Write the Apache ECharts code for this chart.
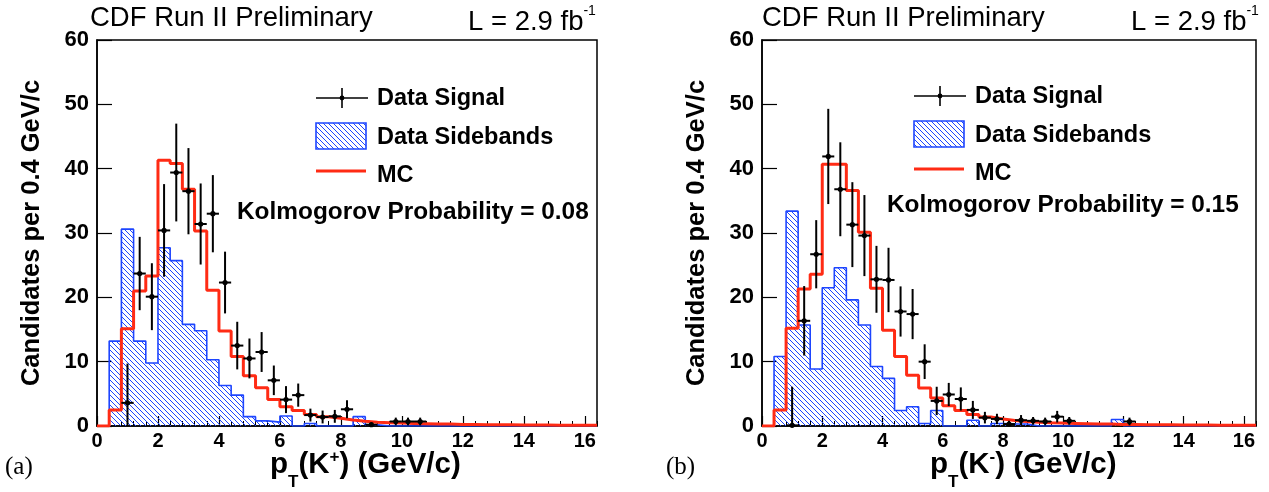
<!DOCTYPE html>
<html>
<head>
<meta charset="utf-8">
<script src="https://cdn.jsdelivr.net/npm/echarts@6/dist/echarts.min.js"></script>
<style>
html, body { margin: 0; padding: 0; background: #fff; }
#chart { width: 1269px; height: 492px; }
</style>
</head>
<body>
<div id="chart"></div>
<script>
// histogram bins: 41 bins of 0.4 GeV/c from 0 to 16.4
var binWidth = 0.4;

// (a) K+
var sbPlus = [0, 13.2, 30.6, 13.2, 9.8, 27.7, 25.7, 15.8, 14.8, 10.3, 6.3, 4.8, 1.45, 0.8, 0.6, 1.55,
  0, 0.4, 0, 0, 0, 1.45, 0.2, 0, 0, 0, 0, 0, 0, 0, 0, 0, 0, 0, 0, 0, 0, 0, 0, 0, 0];
var mcPlus = [0, 2.5, 15.1, 21.0, 23.3, 41.3, 40.8, 36.8, 30.3, 21.1, 14.75, 10.8, 7.8, 5.95, 4.1, 3.0,
  2.4, 1.8, 1.45, 1.2, 0.95, 0.75, 0.6, 0.5, 0.45, 0.4, 0.35, 0.3, 0.3, 0.25, 0.25, 0.2, 0.2, 0.2,
  0.15, 0.15, 0.15, 0.1, 0.1, 0.1, 0.1];
var dataPlusX = [1.0, 1.4, 1.8, 2.2, 2.6, 3.0, 3.4, 3.8, 4.2, 4.6, 5.0, 5.4, 5.8, 6.2, 6.6, 7.0, 7.4, 7.8, 8.2, 9.0, 9.8, 10.2, 10.6];
var dataPlusY = [3.6, 23.7, 20.1, 30.4, 39.4, 36.5, 31.4, 33.0, 22.3, 12.5, 10.5, 11.5, 7.1, 4.1, 4.8, 1.7, 1.4, 1.5, 2.6, 0.2, 0.7, 0.7, 0.7];
var dataPlusErr = [6.1, 5.7, 5.2, 7.2, 7.6, 6.7, 6.3, 6.0, 4.8, 3.7, 3.1, 3.1, 2.3, 2.1, 1.8, 1.0, 1.0, 1.0, 1.4, 0.3, 0.6, 0.6, 0.6];

// (b) K-
var sbMinus = [0, 10.8, 33.4, 15.7, 8.85, 21.5, 24.6, 19.6, 15.7, 9.25, 7.4, 2.4, 3.0, 0.4, 2.4, 0,
  0, 0.9, 0, 0.4, 0.3, 0.3, 0, 0, 0, 0, 0, 0, 0, 1.0, 0, 0, 0, 0, 0, 0, 0, 0, 0, 0, 0];
var mcMinus = [0, 2.5, 15.2, 21.3, 23.6, 40.7, 40.7, 36.6, 30.1, 21.4, 14.9, 10.8, 7.9, 5.9, 4.35, 3.15,
  2.4, 1.8, 1.4, 1.1, 0.85, 0.7, 0.6, 0.5, 0.45, 0.4, 0.35, 0.3, 0.3, 0.25, 0.25, 0.2, 0.2, 0.2,
  0.15, 0.15, 0.15, 0.1, 0.1, 0.1, 0.1];
var dataMinusX = [1.0, 1.4, 1.8, 2.2, 2.6, 3.0, 3.4, 3.8, 4.2, 4.6, 5.0, 5.4, 5.8, 6.2, 6.6, 7.0, 7.4, 7.8, 8.2, 8.6, 9.0, 9.4, 9.8, 10.2, 12.2];
var dataMinusY = [0.1, 16.35, 26.7, 41.9, 36.8, 31.3, 29.6, 22.8, 22.7, 17.8, 17.4, 10.0, 3.9, 4.9, 4.2, 2.5, 1.3, 1.1, 0.3, 0.9, 0.8, 0.7, 1.45, 0.8, 0.7];
var dataMinusErr = [6.0, 5.4, 5.3, 7.4, 7.3, 6.6, 6.3, 5.2, 5.0, 3.9, 3.9, 2.7, 2.2, 1.8, 1.8, 1.4, 0.9, 0.8, 0.5, 0.8, 0.6, 0.6, 0.9, 0.6, 0.6];

var kolmogorov = ['0.08', '0.15'];

var FONT = '"Liberation Sans", Arial, Helvetica, sans-serif';
var SERIF = '"Liberation Serif", "DejaVu Serif", serif';
var BLUE = '#1d45ff';
var RED = '#ff2b14';

// hatch pattern for the sidebands
var hatch = document.createElement('canvas');
hatch.width = 5; hatch.height = 5;
var hc = hatch.getContext('2d');
hc.strokeStyle = BLUE;
hc.lineWidth = 1;
hc.beginPath();
hc.moveTo(-1, -1); hc.lineTo(6, 6);
hc.moveTo(4, -1); hc.lineTo(6, 1);
hc.moveTo(-1, 4); hc.lineTo(1, 6);
hc.stroke();

function stepPoints(vals) {
  var pts = [];
  for (var i = 0; i < vals.length; i++) pts.push([i * binWidth, vals[i]]);
  pts.push([vals.length * binWidth, vals[vals.length - 1]]);
  return pts;
}

function points(xs, ys, es) {
  return xs.map(function (x, i) { return [x, ys[i], es[i]]; });
}

function renderPoint(params, api) {
  var x = api.value(0), y = api.value(1), e = api.value(2);
  var c = api.coord([x, y]);
  var top = api.coord([x, y + e]);
  var bot = api.coord([x, Math.max(0, y - e)]);
  var l = api.coord([x - binWidth / 2, y]);
  var r = api.coord([x + binWidth / 2, y]);
  return {
    type: 'group',
    children: [
      { type: 'line', shape: { x1: c[0], y1: top[1], x2: c[0], y2: bot[1] }, style: { stroke: '#000', lineWidth: 2 } },
      { type: 'line', shape: { x1: l[0], y1: c[1], x2: r[0], y2: c[1] }, style: { stroke: '#000', lineWidth: 2 } },
      { type: 'circle', shape: { cx: c[0], cy: c[1], r: 2.6 }, style: { fill: '#000' } }
    ]
  };
}

function xAxes(gi) {
  return [{
    gridIndex: gi, type: 'value', min: 0, max: 16.4, interval: 2, position: 'bottom',
    axisLine: { show: true, onZero: false, lineStyle: { color: '#000', width: 1.5 } },
    axisTick: { inside: true, length: 10, lineStyle: { color: '#000', width: 1.2 } },
    axisLabel: { color: '#000', fontFamily: FONT, fontWeight: 'bold', fontSize: 20, margin: 5, showMaxLabel: false },
    splitLine: { show: false }
  }, {
    gridIndex: gi, type: 'value', min: 0, max: 16.4, interval: 0.4, position: 'bottom', offset: 0,
    axisLine: { show: false },
    axisTick: { inside: true, length: 5, lineStyle: { color: '#000', width: 1 } },
    axisLabel: { show: false },
    splitLine: { show: false }
  }];
}

function yAxis(gi) {
  return {
    gridIndex: gi, type: 'value', min: 0, max: 60, interval: 10,
    name: 'Candidates per 0.4 GeV/c', nameLocation: 'middle', nameGap: 52, nameRotate: 90,
    nameTextStyle: { color: '#000', fontFamily: FONT, fontWeight: 'bold', fontSize: 25.5 },
    axisLine: { show: true, lineStyle: { color: '#000', width: 1.5 } },
    axisTick: { inside: true, length: 15, lineStyle: { color: '#000', width: 1.2 } },
    axisLabel: { color: '#000', fontFamily: FONT, fontWeight: 'bold', fontSize: 22, margin: 8 },
    splitLine: { show: false }
  };
}

function panelSeries(gi, sb, mc, dx, dy, de) {
  var xi = gi * 2;
  return [{
    type: 'line', xAxisIndex: xi, yAxisIndex: gi, step: 'end', showSymbol: false, silent: true,
    data: stepPoints(sb),
    lineStyle: { color: BLUE, width: 1.6 },
    areaStyle: { color: { image: hatch, repeat: 'repeat' }, opacity: 1 },
    z: 2
  }, {
    type: 'line', xAxisIndex: xi, yAxisIndex: gi, step: 'end', showSymbol: false, silent: true,
    data: stepPoints(mc),
    lineStyle: { color: RED, width: 3 },
    z: 3
  }, {
    type: 'custom', xAxisIndex: xi, yAxisIndex: gi, renderItem: renderPoint,
    encode: { x: 0, y: 1 }, data: points(dx, dy, de), silent: true,
    z: 4
  }];
}

function txt(x, y, text, size, family, weight) {
  return {
    type: 'text', left: x, top: y - size * 0.6 + 3,
    style: { text: text, fill: '#000', font: (weight || 'bold') + ' ' + size + 'px ' + (family || FONT) },
    z: 10
  };
}

function legend(lx, tx, yData, yBox, yMc, kx, ky, kval) {
  var lw = 52;
  return [
    { type: 'line', shape: { x1: lx, y1: yData, x2: lx + lw, y2: yData }, style: { stroke: '#000', lineWidth: 1.6 }, z: 10 },
    { type: 'line', shape: { x1: lx + lw / 2, y1: yData - 10, x2: lx + lw / 2, y2: yData + 10 }, style: { stroke: '#000', lineWidth: 1.6 }, z: 10 },
    { type: 'circle', shape: { cx: lx + lw / 2, cy: yData, r: 2.4 }, style: { fill: '#000' }, z: 10 },
    { type: 'rect', shape: { x: lx, y: yBox - 13, width: 50, height: 26 }, style: { fill: { image: hatch, repeat: 'repeat' }, stroke: BLUE, lineWidth: 1.6 }, z: 10 },
    { type: 'line', shape: { x1: lx, y1: yMc, x2: lx + 50, y2: yMc }, style: { stroke: RED, lineWidth: 3 }, z: 10 },
    txt(tx, yData, 'Data Signal', 23.5),
    txt(tx, yBox + 1, 'Data Sidebands', 23.5),
    txt(tx, yMc + 4, 'MC', 23.5),
    txt(kx, ky, 'Kolmogorov Probability = ' + kval, 24.4)
  ];
}

var supRich = {
  n: { fontFamily: FONT, fontSize: 27.5, fontWeight: 'normal', color: '#000', verticalAlign: 'bottom', lineHeight: 32 },
  s: { fontFamily: FONT, fontSize: 14, fontWeight: 'normal', color: '#000', verticalAlign: 'top', lineHeight: 32 }
};
var axRich = {
  n: { fontFamily: FONT, fontSize: 29.5, fontWeight: 'bold', color: '#000', lineHeight: 32 },
  sub: { fontFamily: FONT, fontSize: 17, fontWeight: 'bold', color: '#000', verticalAlign: 'bottom', lineHeight: 32, padding: [0, 0, -10, 0] },
  sup: { fontFamily: FONT, fontSize: 17, fontWeight: 'bold', color: '#000', verticalAlign: 'top', lineHeight: 32 }
};

function header(x1, x2, xt, charge) {
  return [
    { type: 'text', left: x1, top: 4, style: { text: '{n|CDF Run II Preliminary}', rich: supRich }, z: 10 },
    { type: 'text', left: x2, top: 4, style: { text: '{n|L = 2.9 fb}{s|-1}', rich: supRich }, z: 10 },
    { type: 'text', left: xt, top: 449, style: { text: '{n|p}{sub|T}{n|(K}{sup|' + charge + '}{n|) (GeV/c)}', rich: axRich }, z: 10 }
  ];
}

var chart = echarts.init(document.getElementById('chart'));
chart.setOption({
  backgroundColor: '#fff',
  animation: false,
  grid: [
    { left: 97, top: 40, width: 500, height: 386, show: true, borderColor: '#000', borderWidth: 1.5 },
    { left: 762, top: 40, width: 494, height: 386, show: true, borderColor: '#000', borderWidth: 1.5 }
  ],
  xAxis: xAxes(0).concat(xAxes(1)),
  yAxis: [yAxis(0), yAxis(1)],
  series: panelSeries(0, sbPlus, mcPlus, dataPlusX, dataPlusY, dataPlusErr)
    .concat(panelSeries(1, sbMinus, mcMinus, dataMinusX, dataMinusY, dataMinusErr)),
  graphic: [].concat(
    header(90, 468, 270, '+'),
    header(762, 1131, 930, '-'),
    legend(316, 377, 98, 136, 171, 237, 212, kolmogorov[0]),
    legend(914, 975, 96, 134, 169, 887, 205, kolmogorov[1]),
    [txt(5, 467, '(a)', 25, SERIF, 'normal'),
     txt(666, 467, '(b)', 25, SERIF, 'normal')]
  )
});
</script>
</body>
</html>
